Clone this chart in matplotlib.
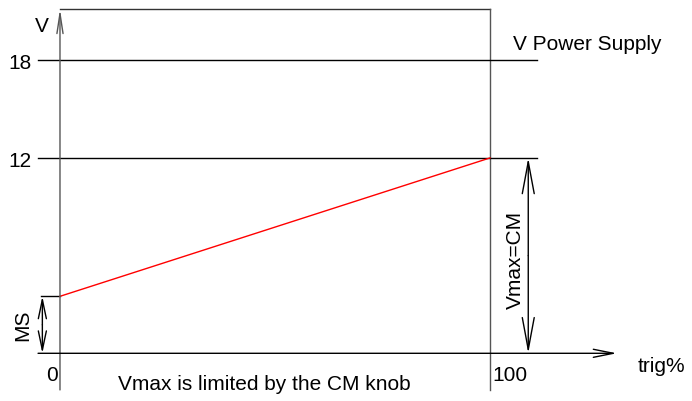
import matplotlib
matplotlib.use("Agg")
from matplotlib import pyplot as plt

plt.rcParams['font.family'] = ['Liberation Sans', 'DejaVu Sans']

# levels on the voltage axis
ms_level = 3.5
cm_level = 12
supply_level = 18
y_ticks = [supply_level, cm_level]
y_tick_labels = ["18", "12"]

# trigger axis
x_ticks = [0, 100]
x_tick_labels = ["0", "100"]

# output voltage vs trigger
trig = [0, 100]
vout = [ms_level, cm_level]

FS = 15
GRAY = "#555555"

fig = plt.figure(figsize=(6.92, 4.01), dpi=100)
ax = fig.add_axes([0, 0, 1, 1])
ax.set_xlim(-13.95, 146.98)
ax.set_ylim(-2.93, 21.70)
ax.axis("off")

top = 21.15
bottom = -2.25
x_left = -5.1
x_right = 110.9


def arrow(x0, y0, x1, y1, style, hl, hw, color="black"):
    ax.annotate("", xy=(x1, y1), xytext=(x0, y0),
                arrowprops=dict(arrowstyle="%s,head_length=%g,head_width=%g" % (style, hl, hw),
                                color=color, lw=1, shrinkA=0, shrinkB=0,
                                mutation_scale=1))


# frame: left axis with arrow, top line, right line at 100%
arrow(x_ticks[0], bottom, x_ticks[0], top, "->", 14.4, 2.2, GRAY)
ax.plot([x_ticks[0], x_ticks[1]], [top, top], color="#333333", lw=1)
ax.plot([x_ticks[1], x_ticks[1]], [bottom, top], color=GRAY, lw=1)

# horizontal level lines
for lvl in y_ticks:
    ax.plot([x_left, x_right], [lvl, lvl], color="black", lw=1)

# baseline with arrow
arrow(x_left, 0, 129.5, 0, "->", 14.4, 2.9)

# MS bracket
ax.plot([-4.4, 0], [ms_level, ms_level], color="black", lw=1)
arrow(-4.1, ms_level / 2, -4.1, ms_level, "->", 13.7, 2.9)
arrow(-4.1, ms_level / 2, -4.1, 0, "->", 13.7, 2.9)
ax.text(-8.6, ms_level / 2, "MS", rotation=90, ha="center", va="center", fontsize=FS)

# Vmax=CM dimension
arrow(108.9, cm_level / 2, 108.9, cm_level, "->", 23, 4.3)
arrow(108.9, cm_level / 2, 108.9, 0, "->", 23, 4.3)
ax.text(105.8, 5.73, "Vmax=CM", rotation=90, ha="center", va="center", fontsize=FS)

# output line
ax.plot(trig, vout, color="red", lw=1)

# labels
for lvl, lab in zip(y_ticks, y_tick_labels):
    ax.text(-6.6, lvl - 0.2, lab, ha="right", va="center", fontsize=FS)
ax.text(-0.6, -1.35, x_tick_labels[0], ha="right", va="center", fontsize=FS)
ax.text(100.5, -1.35, x_tick_labels[1], ha="left", va="center", fontsize=FS)
ax.text(-4.2, 20.1, "V", ha="center", va="center", fontsize=FS)
ax.text(105.3, 18.63, "V Power Supply", ha="left", va="baseline", fontsize=FS)
ax.text(134.4, -0.84, "trig%", ha="left", va="center", fontsize=FS)
ax.text(13.5, -2.25, "Vmax is limited by the CM knob", ha="left", va="baseline", fontsize=FS)

fig.savefig("out.png", dpi=100)
